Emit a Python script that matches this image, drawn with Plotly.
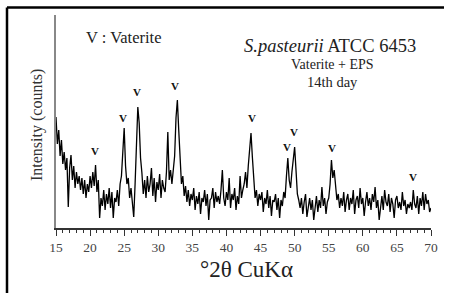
import numpy as np
import plotly.graph_objects as go

# 2-theta from 15 to 70 deg, step 0.2
two_theta_start = 15.0
two_theta_step = 0.2
intensity = [
    111, 84, 98, 72, 88, 64, 76, 58, 70, 21,
    60, 73, 48, 62, 40, 56, 44, 52, 38, 50,
    34, 48, 30, 44, 36, 52, 40, 56, 42, 63,
    36, 48, 10, 30, 22, 38, 18, 34, 24, 40,
    20, 36, 10, 30, 26, 38, 22, 44, 52, 78,
    100, 62, 44, 50, 30, 40, 28, 11, 44, 86,
    121, 105, 70, 55, 34, 48, 30, 52, 36, 44,
    60, 32, 50, 26, 46, 38, 54, 30, 48, 40,
    36, 56, 96, 48, 58, 44, 62, 72, 110, 128,
    98, 71, 44, 52, 32, 42, 26, 38, 22, 34,
    28, 40, 18, 32, 24, 36, 14, 30, 26, 38,
    22, 34, 8, 28, 30, 40, 20, 36, 26, 32,
    24, 38, 58, 30, 22, 36, 28, 50, 20, 34,
    28, 40, 18, 32, 24, 52, 30, 38, 44, 56,
    40, 62, 78, 95, 71, 44, 30, 38, 22, 34,
    28, 36, 16, 30, 24, 38, 20, 32, 12, 28,
    26, 34, 18, 30, 10, 28, 22, 36, 30, 52,
    70, 48, 40, 56, 72, 81, 58, 34, 28, 20,
    30, 14, 26, 34, 11, 24, 30, 18, 28, 8,
    24, 32, 16, 28, 20, 41, 22, 30, 14, 26,
    30, 44, 68, 50, 58, 38, 28, 34, 20, 30,
    22, 36, 16, 28, 34, 18, 30, 24, 38, 14,
    28, 32, 20, 40, 24, 30, 12, 26, 36, 22,
    30, 18, 34, 26, 41, 20, 28, 8, 24, 32,
    18, 38, 26, 22, 34, 16, 30, 24, 10, 28,
    32, 20, 26, 18, 36, 22, 28, 14, 24, 20,
    26, 18, 38, 24, 20, 32, 14, 30, 22, 36,
    18, 34, 24, 28, 16, 20,
]
two_theta = [round(two_theta_start + two_theta_step * i, 2) for i in range(len(intensity))]

# Vaterite peak markers
v_pos = [20.7, 24.8, 26.9, 32.5, 43.75, 48.9, 49.9, 55.5, 67.4]
v_lab = [77, 110, 136, 142, 110, 81, 96, 80, 51]

x_ticks = [15, 20, 25, 30, 35, 40, 45, 50, 55, 60, 65, 70]

SERIF = "Liberation Serif, Times New Roman, serif"

fig = go.Figure()
fig.add_trace(go.Scatter(x=two_theta, y=intensity, mode="lines",
                         line=dict(color="black", width=1.3), showlegend=False,
                         hoverinfo="skip"))

ann = []
for xv, yv in zip(v_pos, v_lab):
    ann.append(dict(x=xv, y=yv, xref="x", yref="y", text="<b>V</b>", showarrow=False,
                    font=dict(family=SERIF, size=11, color="#111")))

def P(px, py):
    return (px - 56) / 375.0, (228 - py) / 213.0

for txt, (px, py), size in [
    ("V : Vaterite", (123, 37), 16.5),
    ("<i>S.pasteurii</i> ATCC 6453", (330, 46), 18.5),
    ("Vaterite + EPS", (332, 65), 14),
    ("14th day", (332, 82), 14.5),
    ("°2θ CuKα", (246, 269), 23),
]:
    x, y = P(px, py)
    ann.append(dict(x=x, y=y, xref="paper", yref="paper", text=txt, showarrow=False,
                    xanchor="center", yanchor="middle",
                    font=dict(family=SERIF, size=size, color="#222")))
x, y = P(37, 125)
ann.append(dict(x=x, y=y, xref="paper", yref="paper", text="Intensity (counts)",
                showarrow=False, textangle=-90, xanchor="center", yanchor="middle",
                font=dict(family=SERIF, size=16, color="#333")))

fx0, _ = P(7, 0)
fx1, _ = P(444, 0)
_, fy0 = P(0, 7.5)
_, fy1 = P(0, 293)
shapes = [
    dict(type="line", xref="paper", yref="paper", x0=fx0, x1=fx1, y0=fy0, y1=fy0,
         line=dict(color="black", width=2.5)),
    dict(type="line", xref="paper", yref="paper", x0=fx0, x1=fx0, y0=fy0, y1=fy1,
         line=dict(color="black", width=2.5)),
]

fig.update_layout(
    width=449, height=293,
    margin=dict(l=56, r=18, t=15, b=65),
    paper_bgcolor="white", plot_bgcolor="white",
    annotations=ann, shapes=shapes,
    xaxis=dict(range=[15, 70], tickvals=x_ticks, ticks="outside", ticklen=6,
               tickcolor="#333", tickwidth=1, showgrid=False, zeroline=False,
               showline=True, linecolor="#333", linewidth=1.5,
               tickfont=dict(family=SERIF, size=13.5, color="#444"),
               minor=dict(dtick=1, ticks="outside", ticklen=3, tickcolor="#333",
                          showgrid=False)),
    yaxis=dict(range=[0, 213], showticklabels=False, ticks="", showgrid=False,
               zeroline=False, showline=True, linecolor="#888", linewidth=2),
)

fig.write_html("out.html", config={"displayModeBar": False},
               post_script="document.body.style.margin='0';")
